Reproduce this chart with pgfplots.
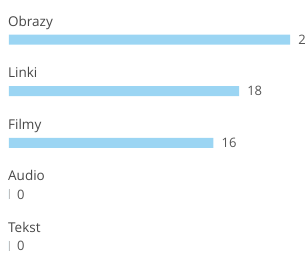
\documentclass[border=0pt]{standalone}
\usepackage{pgfplots}
\pgfplotsset{compat=1.18}
\usepackage{pgfplotstable}
\usepackage{fontspec}
\setmainfont{Open Sans}
\definecolor{barblue}{RGB}{155,213,243}
\definecolor{txt}{RGB}{85,85,85}
\pgfplotstableread{
y value zero name
4 22 0 Obrazy
3 18 0 Linki
2 16 0 Filmy
1 0 0 Audio
0 0 0 Tekst
}\datatable
\begin{document}
\begin{tikzpicture}[x=1pt,y=1pt]
\useasboundingbox (0,0) rectangle (305,253);
\clip (0,0) rectangle (305,253);
\begin{axis}[
  at={(9pt,0pt)}, anchor=south west,
  scale only axis, width=296pt, height=253pt,
  hide axis,
  xmin=0, xmax=23.16,
  ymin=-0.136, ymax=4.766,
  clip=false,
  /pgf/number format/assume math mode=true,
  font=\fontsize{13}{15}\selectfont,
]
\addplot[xbar, bar width=10pt, fill=barblue, draw=none,
  nodes near coords,
  every node near coord/.append style={anchor=west, xshift=8pt, inner sep=0pt, text=txt, font=\fontsize{13}{15}\selectfont},
] table[x=value, y=y] {\datatable};
\addplot[only marks, mark=|, mark size=5pt, mark options={draw=black!25, line width=0.8pt}]
  coordinates {(0,1) (0,0)};
\addplot[draw=none, mark=none,
  nodes near coords, point meta=explicit symbolic,
  every node near coord/.append style={anchor=base west, yshift=13.5pt, xshift=-1pt, inner sep=0pt, text=txt!85!black, font=\fontsize{13.5}{15}\selectfont},
] table[x=zero, y=y, meta=name] {\datatable};
\end{axis}
\end{tikzpicture}
\end{document}
